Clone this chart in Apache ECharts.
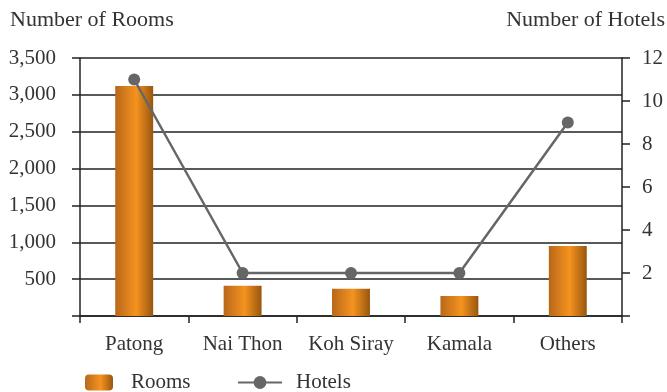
<!DOCTYPE html>
<html>
<head>
<meta charset="utf-8">
<script src="https://cdn.jsdelivr.net/npm/echarts@6/dist/echarts.min.js"></script>
<style>
  html, body { margin: 0; padding: 0; background: #fff; }
  #chart { width: 667px; height: 392px; }
</style>
</head>
<body>
<div id="chart"></div>
<script>
// Phuket hotel supply by area
const categories = ['Patong', 'Nai Thon', 'Koh Siray', 'Kamala', 'Others'];
const rooms = [3120, 410, 370, 270, 950];
const hotels = [11, 2, 2, 2, 9];
const roomTicks = [0, 500, 1000, 1500, 2000, 2500, 3000, 3500];
const hotelTicks = [0, 2, 4, 6, 8, 10, 12];

const FONT = '"Liberation Serif", "Times New Roman", serif';
const TEXT = '#333333';
const RULE = '#222222';
const FS = 21;

const barFill = new echarts.graphic.LinearGradient(0, 0, 1, 0, [
  { offset: 0, color: '#b8671a' },
  { offset: 0.55, color: '#f5931f' },
  { offset: 1, color: '#985610' }
]);

const chart = echarts.init(document.getElementById('chart'), null, { renderer: 'canvas' });

chart.setOption({
  animation: false,
  backgroundColor: '#ffffff',
  textStyle: { fontFamily: FONT, color: TEXT },
  title: [
    { text: 'Number of Rooms', left: 10, top: 9, padding: 0,
      textStyle: { fontFamily: FONT, fontSize: 22, fontWeight: 'normal', color: TEXT } },
    { text: 'Number of Hotels', right: 2, top: 9, padding: 0,
      textStyle: { fontFamily: FONT, fontSize: 22, fontWeight: 'normal', color: TEXT } }
  ],
  grid: { left: 80, right: 45, top: 58, bottom: 76, containLabel: false },
  legend: [
    {
      data: ['Rooms'], left: 80, top: 367, itemWidth: 28, itemHeight: 16,
      textStyle: { fontFamily: FONT, fontSize: FS, color: TEXT, padding: [0, 0, 0, 13] }
    },
    {
      data: ['Hotels'], left: 232, top: 367, itemWidth: 44, itemHeight: 16,
      textStyle: { fontFamily: FONT, fontSize: FS, color: TEXT, padding: [0, 0, 0, 9] }
    }
  ],
  xAxis: {
    type: 'category',
    data: categories,
    boundaryGap: true,
    axisLine: { show: true, lineStyle: { color: RULE, width: 1.5 } },
    axisTick: { show: true, interval: 0, length: 7, lineStyle: { color: RULE, width: 1.5 } },
    axisLabel: { interval: 0, fontFamily: FONT, fontSize: FS, color: TEXT, margin: 18 }
  },
  yAxis: [
    {
      type: 'value', min: roomTicks[0], max: roomTicks[roomTicks.length - 1], interval: 500,
      axisLine: { show: true, lineStyle: { color: RULE, width: 1.5 } },
      axisTick: { show: true, length: 8, lineStyle: { color: RULE, width: 1.5 } },
      splitLine: { show: true, lineStyle: { color: RULE, width: 1.5 } },
      axisLabel: {
        fontFamily: FONT, fontSize: FS, color: TEXT, margin: 24,
        formatter: v => (v === 0 ? '' : v.toLocaleString('en-US'))
      }
    },
    {
      type: 'value', min: hotelTicks[0], max: hotelTicks[hotelTicks.length - 1], interval: 2,
      position: 'right',
      axisLine: { show: true, lineStyle: { color: RULE, width: 1.5 } },
      axisTick: { show: true, length: 8, lineStyle: { color: RULE, width: 1.5 } },
      splitLine: { show: false },
      axisLabel: {
        fontFamily: FONT, fontSize: FS, color: TEXT, margin: 20,
        formatter: v => (v === 0 ? '' : String(v))
      }
    }
  ],
  series: [
    {
      name: 'Rooms', type: 'bar', yAxisIndex: 0, data: rooms,
      barWidth: '35%',
      itemStyle: { color: barFill }
    },
    {
      name: 'Hotels', type: 'line', yAxisIndex: 1, data: hotels,
      symbol: 'circle', symbolSize: 12,
      lineStyle: { color: '#666666', width: 2.5 },
      itemStyle: { color: '#666666' }
    }
  ]
});
</script>
</body>
</html>
